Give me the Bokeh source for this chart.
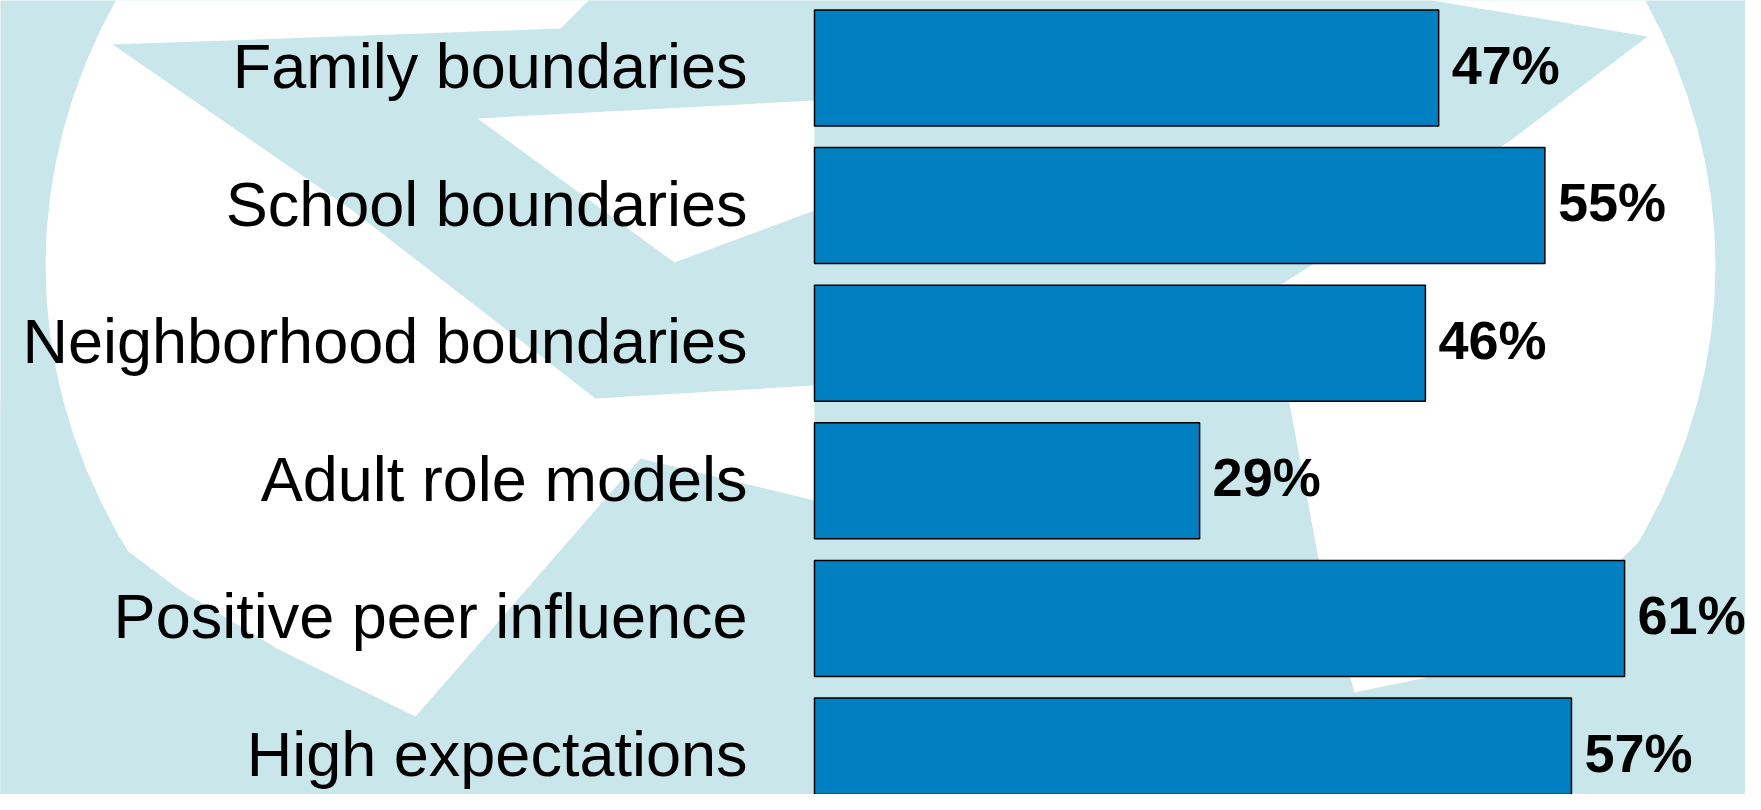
from bokeh.plotting import figure
from bokeh.models import Range1d, ColumnDataSource
from bokeh.core.properties import value
from bokeh.embed import file_html
from bokeh.resources import INLINE
import math

# ---------------- data ----------------
categories = ["Family boundaries", "School boundaries", "Neighborhood boundaries",
              "Adult role models", "Positive peer influence", "High expectations"]
percentages = [47, 55, 46, 29, 61, 57]
value_labels = [f"{v}%" for v in percentages]
positions = list(range(len(categories)))

# ---------------- layout ----------------
W, H = 1745, 794

ZERO_PX = 814.0       # x pixel of 0 %
PX_PER_PCT = 13.28    # pixels per percentage point
ROW0_PX = 67.5        # centre of first bar
ROW_PX = 137.6        # bar pitch

x_start = -ZERO_PX / PX_PER_PCT
x_end = (W - ZERO_PX) / PX_PER_PCT
y_top = -ROW0_PX / ROW_PX
y_bottom = (H - ROW0_PX) / ROW_PX

TEAL = "#C9E7EA"
BAR = "#0080C0"


def to_data(pts):
    xs = [(px - ZERO_PX) / PX_PER_PCT for px, py in pts]
    ys = [(py - ROW0_PX) / ROW_PX for px, py in pts]
    return xs, ys


# ---------------- decorative background logo ----------------
ell_cx, ell_cy, ell_rx, ell_ry = 880, 265, 835, 660
ellipse_pts = [(ell_cx + ell_rx * math.cos(t / 180 * math.pi),
                ell_cy + ell_ry * math.sin(t / 180 * math.pi)) for t in range(0, 360, 3)]

star_pts = [(112, 44), (560, 28), (590, -2), (1420, -2), (1647, 36), (1510, 140),
            (1255, 300), (1289, 403), (1318, 558), (1354, 692), (1450, 672),
            (1558, 620), (1640, 540), (1763, 470), (1763, 812), (-2, 812), (-2, 400),
            (48, 410), (60, 470), (100, 530), (180, 590), (280, 650), (415, 716),
            (640, 458), (814, 500), (814, 385), (595, 398), (348, 207)]

notch_shapes = [
    [(477, 118), (814, 100), (814, 210), (674, 262)],
]

p = figure(width=W, height=H,
           x_range=Range1d(x_start, x_end),
           y_range=Range1d(y_bottom, y_top),
           x_axis_type=None, y_axis_type=None,
           toolbar_location=None, output_backend="svg",
           min_border=0, outline_line_color=None,
           background_fill_color=TEAL, border_fill_color=TEAL)
p.xgrid.grid_line_color = None
p.ygrid.grid_line_color = None

ex, ey = to_data(ellipse_pts)
p.patch(ex, ey, fill_color="white", line_color=None)
sx_, sy_ = to_data(star_pts)
p.patch(sx_, sy_, fill_color=TEAL, line_color=None)
nx, ny = [], []
for shape in notch_shapes:
    a, b = to_data(shape)
    nx.append(a)
    ny.append(b)
p.patches(xs=nx, ys=ny, fill_color="white", line_color=None)

# ---------------- bars and labels ----------------
src = ColumnDataSource(dict(y=positions, v=percentages, cat=categories, lab=value_labels))

p.hbar(y="y", left=0, right="v", height=116 / ROW_PX, source=src,
       fill_color=BAR, line_color="black", line_width=1.5)

p.text(x=0, y="y", text="cat", source=src,
       text_align="right", text_baseline="alphabetic",
       x_offset=-67, y_offset=-2,
       text_font=value("Liberation Sans"), text_font_size="63px",
       text_color="black")

p.text(x="v", y="y", text="lab", source=src,
       text_align="left", text_baseline="alphabetic",
       x_offset=13, y_offset=-3.5,
       text_font=value("Liberation Sans"), text_font_size="54px",
       text_font_style="bold", text_color="black")

open("out.html", "w").write(file_html(p, INLINE))
